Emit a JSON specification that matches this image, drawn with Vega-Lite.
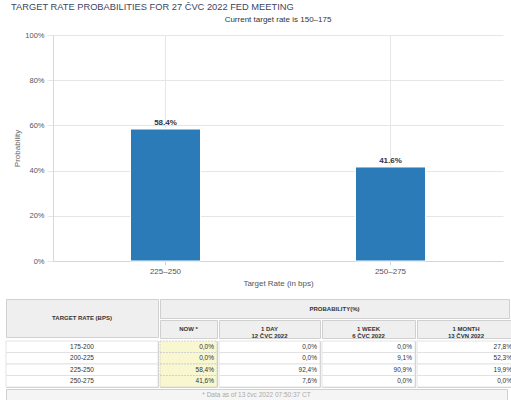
{
  "$schema": "https://vega.github.io/schema/vega-lite/v6.json",
  "background": "white",
  "padding": {"left": 5, "right": 5, "top": 2, "bottom": 0},
  "title": {
    "text": "TARGET RATE PROBABILITIES FOR 27 ČVC 2022 FED MEETING",
    "anchor": "start",
    "dx": 6,
    "offset": 4,
    "fontSize": 9.3,
    "fontWeight": "normal",
    "color": "#3a4663"
  },
  "datasets": {
    "bars": [
      {"rate": "225–250", "prob": 0.584},
      {"rate": "250–275", "prob": 0.416}
    ],
    "table": [
      {"rate": "175-200", "now": 0.0, "day": 0.0, "week": 0.0, "month": 0.278},
      {"rate": "200-225", "now": 0.0, "day": 0.0, "week": 0.091, "month": 0.523},
      {"rate": "225-250", "now": 0.584, "day": 0.924, "week": 0.909, "month": 0.199},
      {"rate": "250-275", "now": 0.416, "day": 0.076, "week": 0.0, "month": 0.0}
    ]
  },
  "spacing": 11,
  "vconcat": [
    {
      "spacing": 0,
      "hconcat": [
        {
          "width": 7,
          "height": 226,
          "view": {"stroke": null},
          "data": {"values": [{}]},
          "mark": {"type": "text", "text": ""}
        },
        {
          "width": 450,
          "height": 226,
          "view": {"stroke": null},
          "title": {
            "text": "Current target rate is 150–175",
            "anchor": "middle",
            "offset": 7,
            "fontSize": 8,
            "fontWeight": "normal",
            "color": "#333333"
          },
          "data": {"name": "bars"},
          "encoding": {
            "x": {
              "field": "rate",
              "type": "nominal",
              "sort": null,
              "title": "Target Rate (in bps)",
              "scale": {"paddingInner": 0.689, "paddingOuter": 0.3445},
              "axis": {
                "labelAngle": 0,
                "grid": true,
                "gridColor": "#e6e6e6",
                "bandPosition": 0.5,
                "domainColor": "#ccd6eb",
                "tickColor": "#ccd6eb",
                "tickSize": 4,
                "labelPadding": 2,
                "labelFontSize": 8,
                "labelColor": "#555555",
                "titleFontSize": 8,
                "titleFontWeight": "normal",
                "titleColor": "#555555",
                "titlePadding": 4
              }
            },
            "y": {
              "field": "prob",
              "type": "quantitative",
              "title": "Probability",
              "scale": {"domain": [0, 1]},
              "axis": {
                "values": [0, 0.2, 0.4, 0.6, 0.8, 1],
                "format": ".0%",
                "gridColor": "#e6e6e6",
                "domainColor": "#d8d8d8",
                "tickColor": "#e6e6e6",
                "tickSize": 6,
                "labelPadding": 3,
                "labelFontSize": 7.5,
                "labelColor": "#555555",
                "titleFontSize": 8,
                "titleFontWeight": "normal",
                "titleColor": "#666666",
                "titlePadding": 3,
                "minExtent": 29,
                "maxExtent": 29
              }
            }
          },
          "layer": [
            {"mark": {"type": "bar", "color": "#2b7bb9", "stroke": "white", "strokeWidth": 1}},
            {
              "mark": {"type": "text", "dy": -6, "fontSize": 8, "fontWeight": "bold", "color": "#333333"},
              "encoding": {"text": {"field": "prob", "type": "quantitative", "format": ".1%"}}
            }
          ]
        }
      ]
    },
    {
      "spacing": 0,
      "vconcat": [
        {
          "spacing": 0,
          "hconcat": [
            {
              "width": 152,
              "height": 38,
              "view": {"fill": "#efefef", "stroke": "#d0d0d0"},
              "data": {"values": [{"label": "TARGET RATE (BPS)"}]},
              "mark": {"type": "text", "fontSize": 6, "fontWeight": "bold", "color": "#333333"},
              "encoding": {"text": {"field": "label"}}
            },
            {
              "spacing": 0,
              "vconcat": [
                {
                  "width": 349,
                  "height": 19,
                  "view": {"fill": "#efefef", "stroke": "#d0d0d0"},
                  "data": {"values": [{"label": "PROBABILITY(%)"}]},
                  "mark": {"type": "text", "fontSize": 6, "fontWeight": "bold", "color": "#333333"},
                  "encoding": {"text": {"field": "label"}}
                },
                {
                  "spacing": 0,
                  "hconcat": [
                    {
                      "width": 57,
                      "height": 18,
                      "view": {"fill": "#efefef", "stroke": "#d0d0d0"},
                      "data": {"values": [{"label": "NOW *"}]},
                      "mark": {"type": "text", "fontSize": 6, "fontWeight": "bold", "color": "#333333"},
                      "encoding": {"text": {"field": "label"}}
                    },
                    {
                      "width": 101,
                      "height": 18,
                      "view": {"fill": "#efefef", "stroke": "#d0d0d0"},
                      "data": {"values": [{"label": ["1 DAY", "12 ČVC 2022"]}]},
                      "mark": {"type": "text", "fontSize": 6, "lineHeight": 7, "fontWeight": "bold", "color": "#333333"},
                      "encoding": {"text": {"field": "label"}}
                    },
                    {
                      "width": 93,
                      "height": 18,
                      "view": {"fill": "#efefef", "stroke": "#d0d0d0"},
                      "data": {"values": [{"label": ["1 WEEK", "6 ČVC 2022"]}]},
                      "mark": {"type": "text", "fontSize": 6, "lineHeight": 7, "fontWeight": "bold", "color": "#333333"},
                      "encoding": {"text": {"field": "label"}}
                    },
                    {
                      "width": 98,
                      "height": 18,
                      "view": {"fill": "#efefef", "stroke": "#d0d0d0"},
                      "data": {"values": [{"label": ["1 MONTH", "13 ČVN 2022"]}]},
                      "mark": {"type": "text", "fontSize": 6, "lineHeight": 7, "fontWeight": "bold", "color": "#333333"},
                      "encoding": {"text": {"field": "label"}}
                    }
                  ]
                }
              ]
            }
          ]
        },
        {
          "spacing": 0,
          "hconcat": [
            {
              "width": 152,
              "height": 46,
              "view": {"stroke": "#d0d0d0"},
              "data": {"name": "table"},
              "encoding": {
                "y": {"field": "rate", "type": "nominal", "sort": null, "axis": null, "scale": {"paddingInner": 0, "paddingOuter": 0}}
              },
              "layer": [
                {"mark": {"type": "rect", "fill": "white", "stroke": "#dddddd", "strokeWidth": 0.8}},
                {
                  "mark": {"type": "text", "fontSize": 6.5, "color": "#333333"},
                  "encoding": {"text": {"field": "rate"}}
                }
              ]
            },
            {
              "width": 57,
              "height": 46,
              "view": {"stroke": "#d0d0d0"},
              "data": {"name": "table"},
              "transform": [{"calculate": "replace(format(datum.now, '.1%'), '.', ',')", "as": "txt"}],
              "encoding": {
                "y": {"field": "rate", "type": "nominal", "sort": null, "axis": null, "scale": {"paddingInner": 0, "paddingOuter": 0}}
              },
              "layer": [
                {
                  "mark": {"type": "rect", "fill": "#f9f7cf", "stroke": "#cccccc", "strokeWidth": 0.8, "strokeDash": [2, 1]},
                  "encoding": {
                    "x": {"datum": 0, "type": "quantitative", "scale": {"domain": [0, 1]}, "axis": null},
                    "x2": {"datum": 1}
                  }
                },
                {
                  "mark": {"type": "text", "align": "right", "dx": -3, "fontSize": 6.5, "color": "#333333"},
                  "encoding": {
                    "x": {"datum": 1, "type": "quantitative"},
                    "text": {"field": "txt"}
                  }
                }
              ]
            },
            {
              "width": 101,
              "height": 46,
              "view": {"stroke": "#d0d0d0"},
              "data": {"name": "table"},
              "transform": [{"calculate": "replace(format(datum.day, '.1%'), '.', ',')", "as": "txt"}],
              "encoding": {
                "y": {"field": "rate", "type": "nominal", "sort": null, "axis": null, "scale": {"paddingInner": 0, "paddingOuter": 0}}
              },
              "layer": [
                {
                  "mark": {"type": "rect", "fill": "white", "stroke": "#dddddd", "strokeWidth": 0.8},
                  "encoding": {
                    "x": {"datum": 0, "type": "quantitative", "scale": {"domain": [0, 1]}, "axis": null},
                    "x2": {"datum": 1}
                  }
                },
                {
                  "mark": {"type": "text", "align": "right", "dx": -3, "fontSize": 6.5, "color": "#333333"},
                  "encoding": {
                    "x": {"datum": 1, "type": "quantitative"},
                    "text": {"field": "txt"}
                  }
                }
              ]
            },
            {
              "width": 93,
              "height": 46,
              "view": {"stroke": "#d0d0d0"},
              "data": {"name": "table"},
              "transform": [{"calculate": "replace(format(datum.week, '.1%'), '.', ',')", "as": "txt"}],
              "encoding": {
                "y": {"field": "rate", "type": "nominal", "sort": null, "axis": null, "scale": {"paddingInner": 0, "paddingOuter": 0}}
              },
              "layer": [
                {
                  "mark": {"type": "rect", "fill": "white", "stroke": "#dddddd", "strokeWidth": 0.8},
                  "encoding": {
                    "x": {"datum": 0, "type": "quantitative", "scale": {"domain": [0, 1]}, "axis": null},
                    "x2": {"datum": 1}
                  }
                },
                {
                  "mark": {"type": "text", "align": "right", "dx": -3, "fontSize": 6.5, "color": "#333333"},
                  "encoding": {
                    "x": {"datum": 1, "type": "quantitative"},
                    "text": {"field": "txt"}
                  }
                }
              ]
            },
            {
              "width": 98,
              "height": 46,
              "view": {"stroke": "#d0d0d0"},
              "data": {"name": "table"},
              "transform": [{"calculate": "replace(format(datum.month, '.1%'), '.', ',')", "as": "txt"}],
              "encoding": {
                "y": {"field": "rate", "type": "nominal", "sort": null, "axis": null, "scale": {"paddingInner": 0, "paddingOuter": 0}}
              },
              "layer": [
                {
                  "mark": {"type": "rect", "fill": "white", "stroke": "#dddddd", "strokeWidth": 0.8},
                  "encoding": {
                    "x": {"datum": 0, "type": "quantitative", "scale": {"domain": [0, 1]}, "axis": null},
                    "x2": {"datum": 1}
                  }
                },
                {
                  "mark": {"type": "text", "align": "right", "dx": -3, "fontSize": 6.5, "color": "#333333"},
                  "encoding": {
                    "x": {"datum": 1, "type": "quantitative"},
                    "text": {"field": "txt"}
                  }
                }
              ]
            }
          ]
        },
        {
          "width": 501,
          "height": 11,
          "view": {"fill": "#f5f5f5", "stroke": "#d0d0d0"},
          "data": {"values": [{"label": "* Data as of 13 čvc 2022 07:50:37 CT"}]},
          "mark": {"type": "text", "fontSize": 6.5, "color": "#aaaaaa"},
          "encoding": {"text": {"field": "label"}}
        }
      ]
    }
  ],
  "config": {
    "font": "Liberation Sans",
    "view": {"stroke": "#d0d0d0"}
  }
}
